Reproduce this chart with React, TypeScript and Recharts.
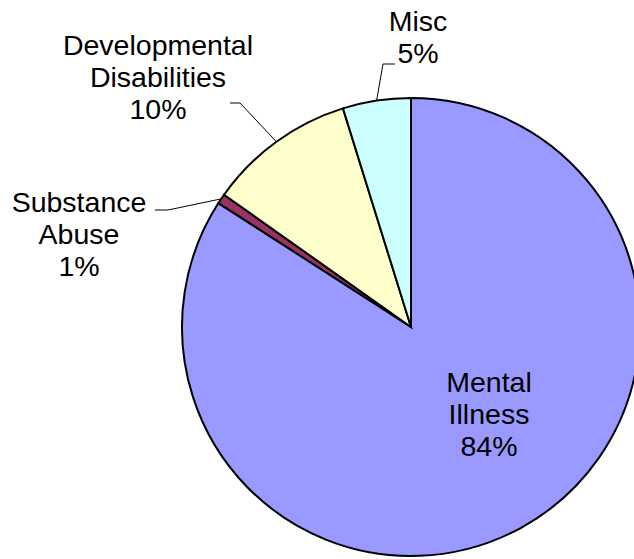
import React from "react";
import { PieChart, Pie, Cell } from "recharts";

const categories = ["Mental Illness", "Substance Abuse", "Developmental Disabilities", "Misc"];
const values = [84.1, 0.7, 10.4, 4.8];
const labelLines = [["Mental", "Illness"], ["Substance", "Abuse"], ["Developmental", "Disabilities"], ["Misc"]];
const colors = ["#9999FF", "#993366", "#FFFFCC", "#CCFFFF"];

const data = categories.map((name, i) => ({ name, value: values[i] }));
const total = values.reduce((a, b) => a + b, 0);

// layout of each label: text center x, first baseline y, leader elbow and end (null = no leader)
const layout: Record<string, { x: number; y: number; elbow?: [number, number]; end?: [number, number] }> = {
  "Mental Illness": { x: 489, y: 392 },
  "Substance Abuse": { x: 79, y: 212, elbow: [168, 210], end: [155, 210] },
  "Developmental Disabilities": { x: 158, y: 55, elbow: [240, 103], end: [230, 103] },
  Misc: { x: 418, y: 31, elbow: [383, 64], end: [395, 64] },
};

const RAD = Math.PI / 180;
const LINE_H = 32;

const renderLabel = (props: any) => {
  const { cx, cy, midAngle, outerRadius, index } = props;
  const name = categories[index];
  const lay = layout[name];
  const pct = Math.round((values[index] / total) * 100) + "%";
  const lines = [...labelLines[index], pct];
  const sx = cx + outerRadius * Math.cos(-midAngle * RAD);
  const sy = cy + outerRadius * Math.sin(-midAngle * RAD);
  return (
    <g key={`lbl-${index}`}>
      {lay.elbow && lay.end && (
        <polyline
          points={`${sx},${sy} ${lay.elbow[0]},${lay.elbow[1]} ${lay.end[0]},${lay.end[1]}`}
          fill="none"
          stroke="#000"
          strokeWidth={1}
        />
      )}
      {lines.map((t, j) => (
        <text
          key={j}
          x={lay.x}
          y={lay.y + j * LINE_H}
          textAnchor="middle"
          fontFamily="'Liberation Sans', Arial, sans-serif"
          fontSize={28.5}
          fill="#000"
        >
          {t}
        </text>
      ))}
    </g>
  );
};

export default function App() {
  return (
    <div style={{ position: "absolute", left: 0, top: 0, width: 634, height: 559, background: "#fff" }}>
      <PieChart width={634} height={559} margin={{ top: 0, right: 0, bottom: 0, left: 0 }}>
        <Pie
          data={data}
          dataKey="value"
          nameKey="name"
          cx={411}
          cy={327}
          outerRadius={229}
          innerRadius={0}
          startAngle={90}
          endAngle={-270}
          isAnimationActive={false}
          label={renderLabel}
          labelLine={false}
          stroke="#000"
          strokeWidth={2}
        >
          {data.map((d, i) => (
            <Cell key={d.name} fill={colors[i]} stroke="#000" strokeWidth={2} />
          ))}
        </Pie>
      </PieChart>
    </div>
  );
}
